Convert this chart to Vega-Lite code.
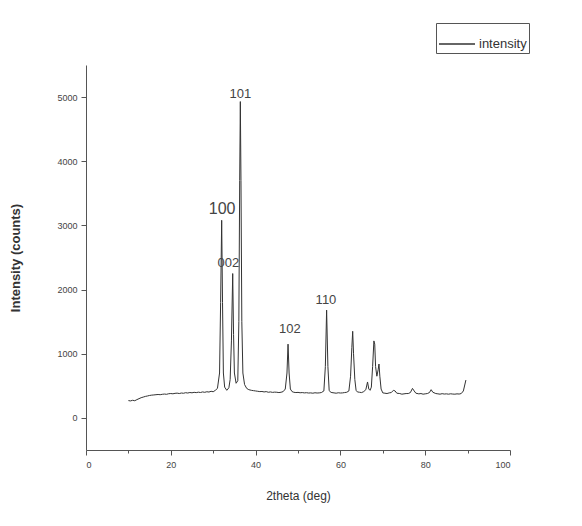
{
  "$schema": "https://vega.github.io/schema/vega-lite/v6.json",
  "width": 424,
  "height": 385,
  "autosize": "none",
  "padding": {"left": 86, "top": 65, "right": 72, "bottom": 76},
  "background": "white",
  "config": {
    "view": {"stroke": null},
    "font": "Liberation Sans",
    "axis": {"grid": false, "domainColor": "#555", "tickColor": "#555", "labelColor": "#444", "labelFontSize": 9, "titleColor": "#333", "labelFont": "Liberation Sans", "titleFont": "Liberation Sans"}
  },
  "datasets": {
    "xrd": [
      {"theta": 10.0, "intensity": 270}, {"theta": 10.5, "intensity": 265}, {"theta": 11.0, "intensity": 275}, {"theta": 11.5, "intensity": 268},
      {"theta": 12.0, "intensity": 285}, {"theta": 12.5, "intensity": 300}, {"theta": 13.0, "intensity": 315}, {"theta": 13.5, "intensity": 325},
      {"theta": 14.0, "intensity": 335}, {"theta": 14.5, "intensity": 342}, {"theta": 15.0, "intensity": 350}, {"theta": 15.5, "intensity": 355},
      {"theta": 16.0, "intensity": 358}, {"theta": 16.5, "intensity": 362}, {"theta": 17.0, "intensity": 365}, {"theta": 17.5, "intensity": 362},
      {"theta": 18.0, "intensity": 368}, {"theta": 18.5, "intensity": 372}, {"theta": 19.0, "intensity": 368}, {"theta": 19.5, "intensity": 377},
      {"theta": 20.0, "intensity": 380}, {"theta": 20.5, "intensity": 376}, {"theta": 21.0, "intensity": 383}, {"theta": 21.5, "intensity": 386},
      {"theta": 22.0, "intensity": 380}, {"theta": 22.5, "intensity": 388}, {"theta": 23.0, "intensity": 384}, {"theta": 23.5, "intensity": 393},
      {"theta": 24.0, "intensity": 388}, {"theta": 24.5, "intensity": 396}, {"theta": 25.0, "intensity": 391}, {"theta": 25.5, "intensity": 399},
      {"theta": 26.0, "intensity": 394}, {"theta": 26.5, "intensity": 401}, {"theta": 27.0, "intensity": 396}, {"theta": 27.5, "intensity": 405},
      {"theta": 28.0, "intensity": 399}, {"theta": 28.5, "intensity": 408}, {"theta": 29.0, "intensity": 403}, {"theta": 29.5, "intensity": 415},
      {"theta": 30.0, "intensity": 408}, {"theta": 30.5, "intensity": 430}, {"theta": 31.0, "intensity": 460}, {"theta": 31.5, "intensity": 700},
      {"theta": 31.75, "intensity": 1800}, {"theta": 32.0, "intensity": 3080}, {"theta": 32.2, "intensity": 1800}, {"theta": 32.4, "intensity": 700},
      {"theta": 32.7, "intensity": 480}, {"theta": 33.2, "intensity": 430}, {"theta": 33.7, "intensity": 470}, {"theta": 34.0, "intensity": 600},
      {"theta": 34.3, "intensity": 1200}, {"theta": 34.6, "intensity": 2250}, {"theta": 34.8, "intensity": 1300}, {"theta": 35.0, "intensity": 700},
      {"theta": 35.4, "intensity": 540}, {"theta": 35.8, "intensity": 580}, {"theta": 36.05, "intensity": 1500}, {"theta": 36.25, "intensity": 3700},
      {"theta": 36.4, "intensity": 4930}, {"theta": 36.55, "intensity": 3700}, {"theta": 36.75, "intensity": 1500}, {"theta": 37.0, "intensity": 700},
      {"theta": 37.4, "intensity": 520}, {"theta": 37.9, "intensity": 460}, {"theta": 38.4, "intensity": 440}, {"theta": 39.0, "intensity": 430},
      {"theta": 39.5, "intensity": 425}, {"theta": 40.0, "intensity": 420}, {"theta": 40.5, "intensity": 415}, {"theta": 41.0, "intensity": 410},
      {"theta": 41.5, "intensity": 412}, {"theta": 42.0, "intensity": 405}, {"theta": 42.5, "intensity": 410}, {"theta": 43.0, "intensity": 400},
      {"theta": 43.5, "intensity": 405}, {"theta": 44.0, "intensity": 398}, {"theta": 44.5, "intensity": 402}, {"theta": 45.0, "intensity": 400},
      {"theta": 45.5, "intensity": 395}, {"theta": 46.0, "intensity": 400}, {"theta": 46.5, "intensity": 410}, {"theta": 47.0, "intensity": 450},
      {"theta": 47.4, "intensity": 700}, {"theta": 47.65, "intensity": 1150}, {"theta": 47.9, "intensity": 700}, {"theta": 48.2, "intensity": 450},
      {"theta": 48.6, "intensity": 410}, {"theta": 49.0, "intensity": 400}, {"theta": 49.5, "intensity": 395}, {"theta": 50.0, "intensity": 398},
      {"theta": 50.5, "intensity": 392}, {"theta": 51.0, "intensity": 395}, {"theta": 51.5, "intensity": 390}, {"theta": 52.0, "intensity": 393},
      {"theta": 52.5, "intensity": 388}, {"theta": 53.0, "intensity": 390}, {"theta": 53.5, "intensity": 385}, {"theta": 54.0, "intensity": 392},
      {"theta": 54.5, "intensity": 388}, {"theta": 55.0, "intensity": 390}, {"theta": 55.5, "intensity": 395}, {"theta": 56.1, "intensity": 420},
      {"theta": 56.45, "intensity": 800}, {"theta": 56.75, "intensity": 1680}, {"theta": 57.05, "intensity": 800}, {"theta": 57.35, "intensity": 430},
      {"theta": 57.7, "intensity": 400}, {"theta": 58.0, "intensity": 395}, {"theta": 58.5, "intensity": 390}, {"theta": 59.0, "intensity": 385},
      {"theta": 59.5, "intensity": 392}, {"theta": 60.0, "intensity": 388}, {"theta": 60.5, "intensity": 390}, {"theta": 61.0, "intensity": 395},
      {"theta": 61.5, "intensity": 400}, {"theta": 62.0, "intensity": 420}, {"theta": 62.4, "intensity": 650}, {"theta": 62.7, "intensity": 1100},
      {"theta": 62.9, "intensity": 1350}, {"theta": 63.1, "intensity": 1000}, {"theta": 63.4, "intensity": 600}, {"theta": 63.7, "intensity": 430},
      {"theta": 64.0, "intensity": 405}, {"theta": 64.5, "intensity": 400}, {"theta": 65.0, "intensity": 395}, {"theta": 65.5, "intensity": 410},
      {"theta": 66.0, "intensity": 440}, {"theta": 66.4, "intensity": 560}, {"theta": 66.7, "intensity": 450}, {"theta": 67.0, "intensity": 430},
      {"theta": 67.3, "intensity": 480}, {"theta": 67.6, "intensity": 800}, {"theta": 67.9, "intensity": 1200}, {"theta": 68.1, "intensity": 1150},
      {"theta": 68.3, "intensity": 800}, {"theta": 68.6, "intensity": 650}, {"theta": 68.9, "intensity": 750}, {"theta": 69.1, "intensity": 840},
      {"theta": 69.3, "intensity": 650}, {"theta": 69.6, "intensity": 450}, {"theta": 70.0, "intensity": 390}, {"theta": 70.5, "intensity": 385},
      {"theta": 71.0, "intensity": 380}, {"theta": 71.5, "intensity": 390}, {"theta": 72.0, "intensity": 395}, {"theta": 72.5, "intensity": 430},
      {"theta": 72.9, "intensity": 420}, {"theta": 73.3, "intensity": 385}, {"theta": 74.0, "intensity": 380}, {"theta": 74.5, "intensity": 370},
      {"theta": 75.0, "intensity": 375}, {"theta": 75.5, "intensity": 380}, {"theta": 76.0, "intensity": 380}, {"theta": 76.5, "intensity": 395},
      {"theta": 77.0, "intensity": 460}, {"theta": 77.4, "intensity": 420}, {"theta": 77.8, "intensity": 385}, {"theta": 78.5, "intensity": 375},
      {"theta": 79.0, "intensity": 380}, {"theta": 79.5, "intensity": 370}, {"theta": 80.0, "intensity": 375}, {"theta": 80.5, "intensity": 380},
      {"theta": 81.0, "intensity": 395}, {"theta": 81.4, "intensity": 440}, {"theta": 81.8, "intensity": 400}, {"theta": 82.5, "intensity": 380},
      {"theta": 83.0, "intensity": 375}, {"theta": 83.5, "intensity": 370}, {"theta": 84.0, "intensity": 378}, {"theta": 84.5, "intensity": 372},
      {"theta": 85.0, "intensity": 375}, {"theta": 85.5, "intensity": 370}, {"theta": 86.0, "intensity": 376}, {"theta": 86.5, "intensity": 372},
      {"theta": 87.0, "intensity": 370}, {"theta": 87.5, "intensity": 375}, {"theta": 88.0, "intensity": 372}, {"theta": 88.5, "intensity": 380},
      {"theta": 89.0, "intensity": 420}, {"theta": 89.6, "intensity": 590}
    ],
    "labels": [
      {"theta": 32.1, "intensity": 3250, "label": "100"},
      {"theta": 33.6, "intensity": 2420, "label": "002"},
      {"theta": 36.4, "intensity": 5050, "label": "101"},
      {"theta": 48.1, "intensity": 1380, "label": "102"},
      {"theta": 56.6, "intensity": 1830, "label": "110"}
    ]
  },
  "layer": [
    {
      "data": {"name": "xrd"},
      "transform": [{"calculate": "'intensity'", "as": "series"}],
      "mark": {"type": "line", "strokeWidth": 1, "interpolate": "linear"},
      "encoding": {
        "x": {"field": "theta", "type": "quantitative", "scale": {"domain": [0, 100], "nice": false},
          "axis": {"title": "2theta (deg)", "values": [0, 10, 20, 30, 40, 50, 60, 70, 80, 90, 100],
            "labelExpr": "datum.value % 20 === 0 ? datum.label : ''",
            "tickSize": {"condition": {"test": "datum.value % 20 === 0", "value": 5}, "value": 3},
            "titleFontSize": 12, "titleFontWeight": "normal", "titlePadding": 21, "labelPadding": 5}},
        "y": {"field": "intensity", "type": "quantitative", "scale": {"domain": [-500, 5500], "nice": false, "zero": false},
          "axis": {"title": "Intensity (counts)", "values": [0, 500, 1000, 1500, 2000, 2500, 3000, 3500, 4000, 4500, 5000],
            "labelExpr": "datum.value % 1000 === 0 ? datum.label : ''",
            "format": "d",
            "tickSize": {"condition": {"test": "datum.value % 1000 === 0", "value": 5}, "value": 3},
            "titleFontSize": 13, "titleFontWeight": "bold", "titlePadding": 34, "labelPadding": 4}},
        "color": {"field": "series", "type": "nominal", "scale": {"range": ["#333333"]},
          "legend": {"title": null, "orient": "none", "legendX": 350, "legendY": -42, "symbolType": "stroke",
            "symbolSize": 1300, "symbolStrokeWidth": 1.5, "strokeColor": "#555", "padding": 2, "labelFontSize": 13,
            "labelColor": "#333", "labelFont": "Liberation Sans", "fillColor": "white", "labelOffset": 3}}
      }
    },
    {
      "data": {"name": "labels"},
      "mark": {"type": "text", "color": "#444", "font": "Liberation Sans"},
      "encoding": {
        "x": {"field": "theta", "type": "quantitative"},
        "y": {"field": "intensity", "type": "quantitative"},
        "text": {"field": "label"},
        "size": {"condition": {"test": "datum.label === '100'", "value": 16}, "value": 13}
      }
    }
  ]
}
